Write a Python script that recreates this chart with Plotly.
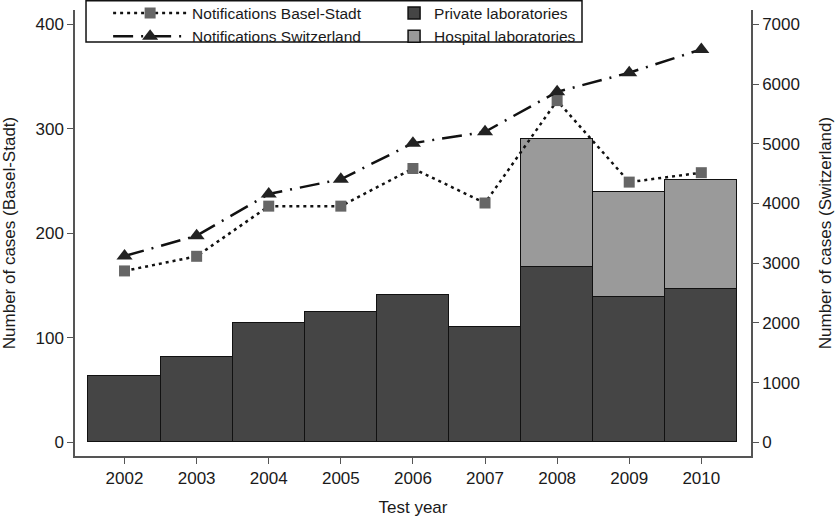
import plotly.graph_objects as go

years = [2002, 2003, 2004, 2005, 2006, 2007, 2008, 2009, 2010]
private_labs = [63, 82, 114, 125, 141, 110, 168, 139, 147]
hospital_labs = [None, None, None, None, None, None, 122, 101, 104]
notif_basel = [164, 178, 226, 226, 262, 229, 327, 249, 258]
notif_swiss = [3120, 3460, 4160, 4405, 5010, 5200, 5870, 6190, 6580]
tick_years = [str(y) for y in years]

FONT = "Liberation Sans, Arial, Helvetica, sans-serif"
TXT = "#1a1a1a"
AX = "#555555"

fig = go.Figure()

fig.add_trace(go.Bar(
    x=years, y=private_labs, name="Private laboratories",
    marker=dict(color="#454545", line=dict(color="#111111", width=1.5)),
    legend="legend2", legendrank=1, yaxis="y",
))
fig.add_trace(go.Bar(
    x=years, y=hospital_labs, name="Hospital laboratories",
    marker=dict(color="#9a9a9a", line=dict(color="#111111", width=1.5)),
    legend="legend2", legendrank=2, yaxis="y",
))
fig.add_trace(go.Scatter(
    x=years, y=notif_basel, name="Notifications Basel-Stadt",
    mode="lines+markers",
    line=dict(color="#111111", width=2.5, dash="3px,4px"),
    marker=dict(symbol="square", size=11, color="#666666"),
    legend="legend", legendrank=1, yaxis="y",
))
fig.add_trace(go.Scatter(
    x=years, y=notif_swiss, name="Notifications Switzerland",
    mode="lines+markers",
    line=dict(color="#111111", width=2.5, dash="20px,8px,2px,8px"),
    marker=dict(symbol="triangle-up", size=14, color="#222222"),
    legend="legend", legendrank=2, yaxis="y2",
))

# legend frame (white box with black border enclosing both legend groups)
fig.add_shape(
    type="rect", xref="paper", yref="paper",
    x0=0.0163, x1=0.750, y0=0.9283, y1=1.021,
    line=dict(color="#111111", width=1.5), fillcolor="white", layer="above",
)

fig.update_layout(
    width=837, height=518,
    margin=dict(l=75, r=86, t=10, b=62, autoexpand=False),
    paper_bgcolor="white", plot_bgcolor="white",
    font=dict(family=FONT, size=17, color=TXT),
    barmode="stack", bargap=0,
    showlegend=True,
    legend=dict(
        orientation="h", x=0.049, xanchor="left", y=1.0303, yanchor="top",
        bgcolor="rgba(0,0,0,0)", borderwidth=0,
        font=dict(family=FONT, size=15.5, color=TXT),
        itemwidth=74, entrywidth=400, entrywidthmode="pixels",
        traceorder="normal", tracegroupgap=0,
    ),
    legend2=dict(
        orientation="h", x=0.472, xanchor="left", y=1.0303, yanchor="top",
        bgcolor="rgba(0,0,0,0)", borderwidth=0,
        font=dict(family=FONT, size=15.5, color=TXT),
        itemwidth=30, entrywidth=400, entrywidthmode="pixels",
        traceorder="normal", tracegroupgap=0,
    ),
    xaxis=dict(
        range=[2001.313, 2010.689], tickmode="array", tickvals=years, ticktext=tick_years,
        showgrid=False, zeroline=False, showline=True, linecolor=AX, linewidth=1.5,
        ticks="outside", ticklen=6, tickcolor=AX, tickwidth=1.2, automargin=False,
        tickfont=dict(size=17, color=TXT),
        title=dict(text="Test year", font=dict(size=17, color=TXT), standoff=14),
    ),
    yaxis=dict(
        range=[-13.1, 413.7], tickvals=[0, 100, 200, 300, 400],
        showgrid=False, zeroline=False, showline=True, linecolor=AX, linewidth=1.5,
        ticks="outside", ticklen=6, tickcolor=AX, tickwidth=1.2, automargin=False,
        tickfont=dict(size=17, color=TXT),
        title=dict(text="Number of cases (Basel-Stadt)", font=dict(size=17, color=TXT), standoff=19),
    ),
    yaxis2=dict(
        overlaying="y", side="right",
        range=[-229, 7240], tickvals=[0, 1000, 2000, 3000, 4000, 5000, 6000, 7000],
        showgrid=False, zeroline=False, showline=True, linecolor=AX, linewidth=1.5,
        ticks="outside", ticklen=6, tickcolor=AX, tickwidth=1.2, automargin=False,
        tickfont=dict(size=17, color=TXT),
        title=dict(text="Number of cases (Switzerland)", font=dict(size=17, color=TXT), standoff=20),
    ),
)

fig.write_html(
    "out.html",
    config={"displayModeBar": False},
    post_script="document.body.style.margin='0';",
)
